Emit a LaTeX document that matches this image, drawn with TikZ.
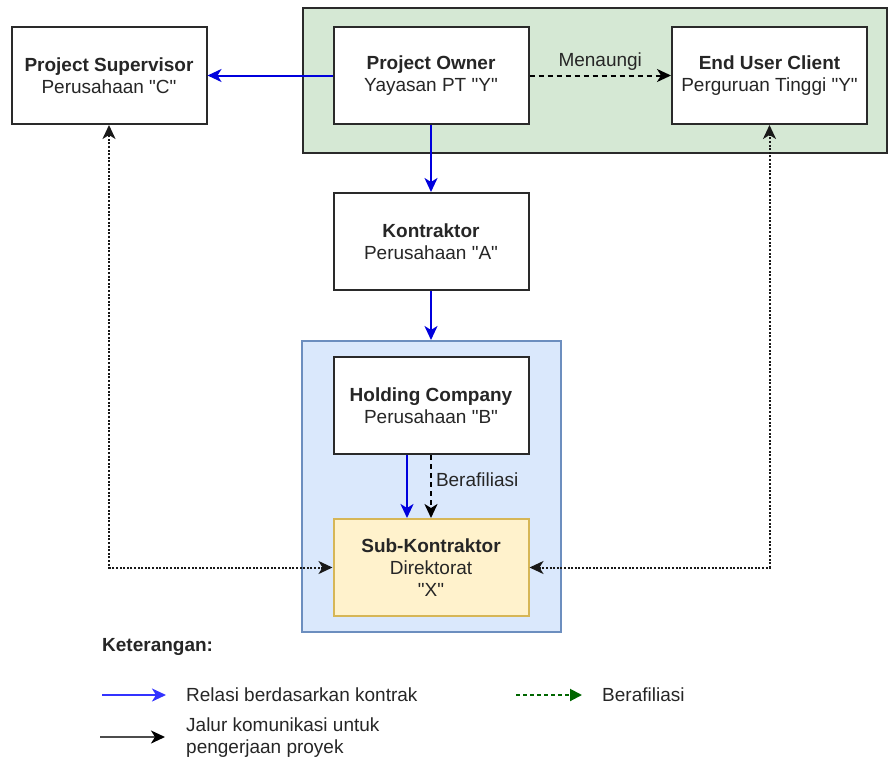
\documentclass[tikz,border=0pt]{standalone}
\usepackage{fontspec}
\setmainfont{Liberation Sans}[Ligatures=TeXOff]
\usetikzlibrary{arrows.meta}
\definecolor{txt}{HTML}{262626}
\definecolor{grfill}{HTML}{D5E8D4}
\definecolor{blfill}{HTML}{DAE8FC}
\definecolor{bldraw}{HTML}{6C8EBF}
\definecolor{yefill}{HTML}{FFF2CC}
\definecolor{yedraw}{HTML}{D6B656}
\definecolor{contract}{HTML}{0000DD}
\definecolor{legblue}{HTML}{3333FF}
\definecolor{leggreen}{HTML}{006600}
\definecolor{boxdraw}{HTML}{2A2A2A}
\begin{document}
\begin{tikzpicture}[x=1pt,y=-1pt,
  font=\fontsize{19}{22}\selectfont, text=txt,
  box/.style={draw=boxdraw, line width=2pt, fill=white, minimum width=195pt,
    minimum height=97pt, align=center, inner sep=0pt},
  tipc/.style={-{Stealth[length=14pt,width=13pt,inset=4pt]}},
  tipb/.style={{Stealth[length=14pt,width=13pt,inset=4pt]}-{Stealth[length=14pt,width=13pt,inset=4pt]}},
  contractline/.style={draw=contract, line width=2pt, tipc},
  affline/.style={draw=black, line width=2pt, dash pattern=on 5pt off 4pt, tipc},
  commline/.style={draw=black!90, line width=2pt, dash pattern=on 2pt off 1.6pt, tipb}
]
\useasboundingbox (0,0) rectangle (888,760);

% containers
\node[draw=boxdraw, line width=2pt, fill=grfill, minimum width=584pt, minimum height=145pt, inner sep=0pt] (grn) at (595,80.5) {};
\node[draw=bldraw, line width=2pt, fill=blfill, minimum width=259pt, minimum height=291pt, inner sep=0pt] (grp) at (431.5,486.5) {};

% boxes
\node[box] (ps) at (109,75.5) {\textbf{Project Supervisor}\\Perusahaan "C"};
\node[box] (po) at (431,75.5) {\textbf{Project Owner}\\Yayasan PT "Y"};
\node[box] (euc) at (769.5,75.5) {\textbf{End User Client}\\Perguruan Tinggi "Y"};
\node[box] (k) at (431,241.5) {\textbf{Kontraktor}\\Perusahaan "A"};
\node[box] (hc) at (431,405.5) {\textbf{Holding Company}\\Perusahaan "B"};
\node[box, draw=yedraw, fill=yefill] (sk) at (431,567.5) {\textbf{Sub-Kontraktor}\\Direktorat\\"X"};

% connectors
\draw[contractline] (po.west) -- (ps.east);
\draw[affline] (po.east) -- node[above=4pt, inner sep=0pt] {Menaungi} (euc.west);
\draw[contractline] (po.south) -- (k.north);
\draw[contractline] (k.south) -- (k.south |- grp.north);
\draw[contractline] ([xshift=-24pt]hc.south) -- ([xshift=-24pt]sk.north);
\draw[affline] (hc.south) -- node[right=4pt, inner sep=0pt, pos=0.4] {Berafiliasi} (sk.north);
\draw[commline] (sk.west) -| (ps.south);
\draw[commline] (sk.east) -| (euc.south);

% legend
\node[anchor=west, inner sep=0pt] (ket) at (102,647) {\textbf{Keterangan:}};
\coordinate (l1a) at (102,695);
\coordinate (l1b) at (166,695);
\draw[draw=legblue, line width=2pt, tipc] (l1a) -- (l1b);
\node[anchor=west, inner sep=0pt] (t1) at (186,695) {Relasi berdasarkan kontrak};
\coordinate (l2a) at (100,737);
\coordinate (l2b) at (165,737);
\draw[draw=black!70, line width=2pt, -{Stealth[length=14pt,width=13pt,inset=4pt,color=black]}] (l2a) -- (l2b);
\node[anchor=west, align=left, inner sep=0pt] (t2) at (186,738) {Jalur komunikasi untuk\\pengerjaan proyek};
\coordinate (l3a) at (516,695);
\coordinate (l3b) at (582,695);
\draw[draw=leggreen, line width=2pt, dash pattern=on 4pt off 3pt, -{Triangle[length=12pt,width=12pt]}] (l3a) -- (l3b);
\node[anchor=west, inner sep=0pt] (t3) at (602,695) {Berafiliasi};
\end{tikzpicture}
\end{document}
